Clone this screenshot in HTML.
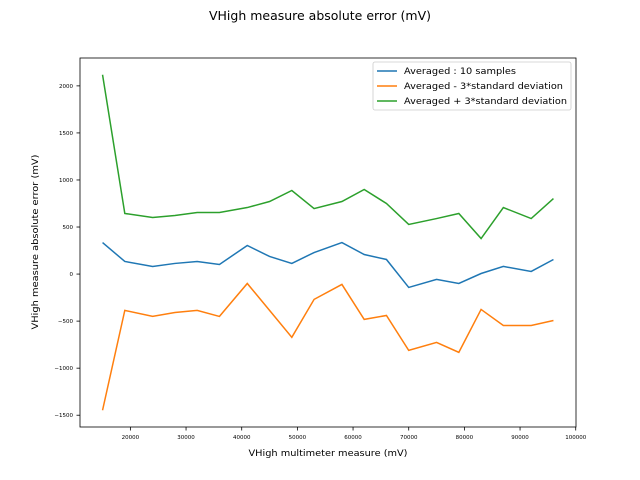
<!DOCTYPE html>
<html><head><meta charset="utf-8"><style>
body{margin:0;background:#fff;}
svg{display:block;font-family:"DejaVu Sans","Liberation Sans",sans-serif;}
</style></head><body>
<svg id="chart" width="640" height="480">
<rect width="640" height="480" fill="#fff"/>
<text x="320" y="20" text-anchor="middle" font-size="12" textLength="222" lengthAdjust="spacingAndGlyphs">VHigh measure absolute error (mV)</text>
<g id="plot"></g>
</svg>
<script>
const xValues=[15000,19000,24000,28000,32000,36000,41000,45000,49000,53000,58000,62000,66000,70000,75000,79000,83000,87000,92000,96000];
const avgValues=[335,134,81,113,134,102,304,187,113,229,335,208,155,-142,-57,-100,6,81,28,155];
const minusValues=[-1447,-386,-450,-408,-386,-450,-100,-386,-672,-269,-110,-482,-440,-811,-726,-832,-376,-546,-546,-493];
const plusValues=[2118,644,601,622,654,654,707,771,888,696,771,899,750,527,590,644,378,707,590,803];
const xTicks=[20000,30000,40000,50000,60000,70000,80000,90000,100000];
const yTicks=[-1500,-1000,-500,0,500,1000,1500,2000];
const seriesNames=["Averaged : 10 samples","Averaged - 3*standard deviation","Averaged + 3*standard deviation"];
const legendLens=[112,159,163];
const colors=["#1f77b4","#ff7f0e","#2ca02c"];
const L=80,R=576,T=58,B=427;
const all=avgValues.concat(minusValues,plusValues);
const xmin0=Math.min(...xValues),xmax0=Math.max(...xValues);
const ymin0=Math.min(...all),ymax0=Math.max(...all);
const xm=(xmax0-xmin0)*0.05,ym=(ymax0-ymin0)*0.05;
const xmin=xmin0-xm,xmax=xmax0+xm,ymin=ymin0-ym,ymax=ymax0+ym;
const sx=v=>L+(v-xmin)/(xmax-xmin)*(R-L);
const sy=v=>B-(v-ymin)/(ymax-ymin)*(B-T);
const NS="http://www.w3.org/2000/svg";
const g=document.getElementById('plot');
function mk(tag,attrs,parent){const e=document.createElementNS(NS,tag);for(const k in attrs)e.setAttribute(k,attrs[k]);(parent||g).appendChild(e);return e;}
xTicks.forEach(t=>{const x=sx(t);
 const l=mk('line',{x1:x,x2:x,y1:B,y2:B+3.5,stroke:'#000','stroke-width':0.8});
 
 
 const tx=mk('text',{x:x,y:B+12,'text-anchor':'middle','font-size':5.5});tx.textContent=t;
 
 
});
yTicks.forEach(t=>{const y=sy(t);
 const l=mk('line',{x1:L-3.5,x2:L,y1:y,y2:y,stroke:'#000','stroke-width':0.8});
 
 
 const tx=mk('text',{x:L-7,y:y+2,'text-anchor':'end','font-size':5.5});tx.textContent=(t<0?'\u2212'+(-t):t);
 
 
});
[avgValues,minusValues,plusValues].forEach((s,i)=>{
 const p=mk('polyline',{points:s.map((v,j)=>sx(xValues[j])+','+sy(v)).join(' '),fill:'none',stroke:colors[i],'stroke-width':1.5});
 
 
});
const fr=mk('rect',{x:L,y:T,width:R-L,height:B-T,fill:'none',stroke:'#000','stroke-width':0.8});


const xl=mk('text',{x:(L+R)/2,y:456,'text-anchor':'middle','font-size':9,textLength:159,lengthAdjust:'spacingAndGlyphs'});xl.textContent='VHigh multimeter measure (mV)';


const cy=242;
const yl=mk('text',{x:38,y:cy,'text-anchor':'middle','font-size':9,textLength:175,lengthAdjust:'spacingAndGlyphs',transform:'rotate(-90 38 '+cy+')'});yl.textContent='VHigh measure absolute error (mV)';


const lg=mk('g',{});


mk('rect',{x:373,y:62,width:198,height:48,rx:2,fill:'#fff',stroke:'#ccc','stroke-width':0.8},lg);
seriesNames.forEach((n,i)=>{const y=71+i*15;
 const e=mk('g',{},lg);
 
 
 mk('line',{x1:377,x2:397,y1:y,y2:y,stroke:colors[i],'stroke-width':1.5},e);
 const t=mk('text',{x:404,y:y+3,'font-size':9,textLength:legendLens[i],lengthAdjust:'spacingAndGlyphs'},e);t.textContent=n;
});
</script>
</body></html>
